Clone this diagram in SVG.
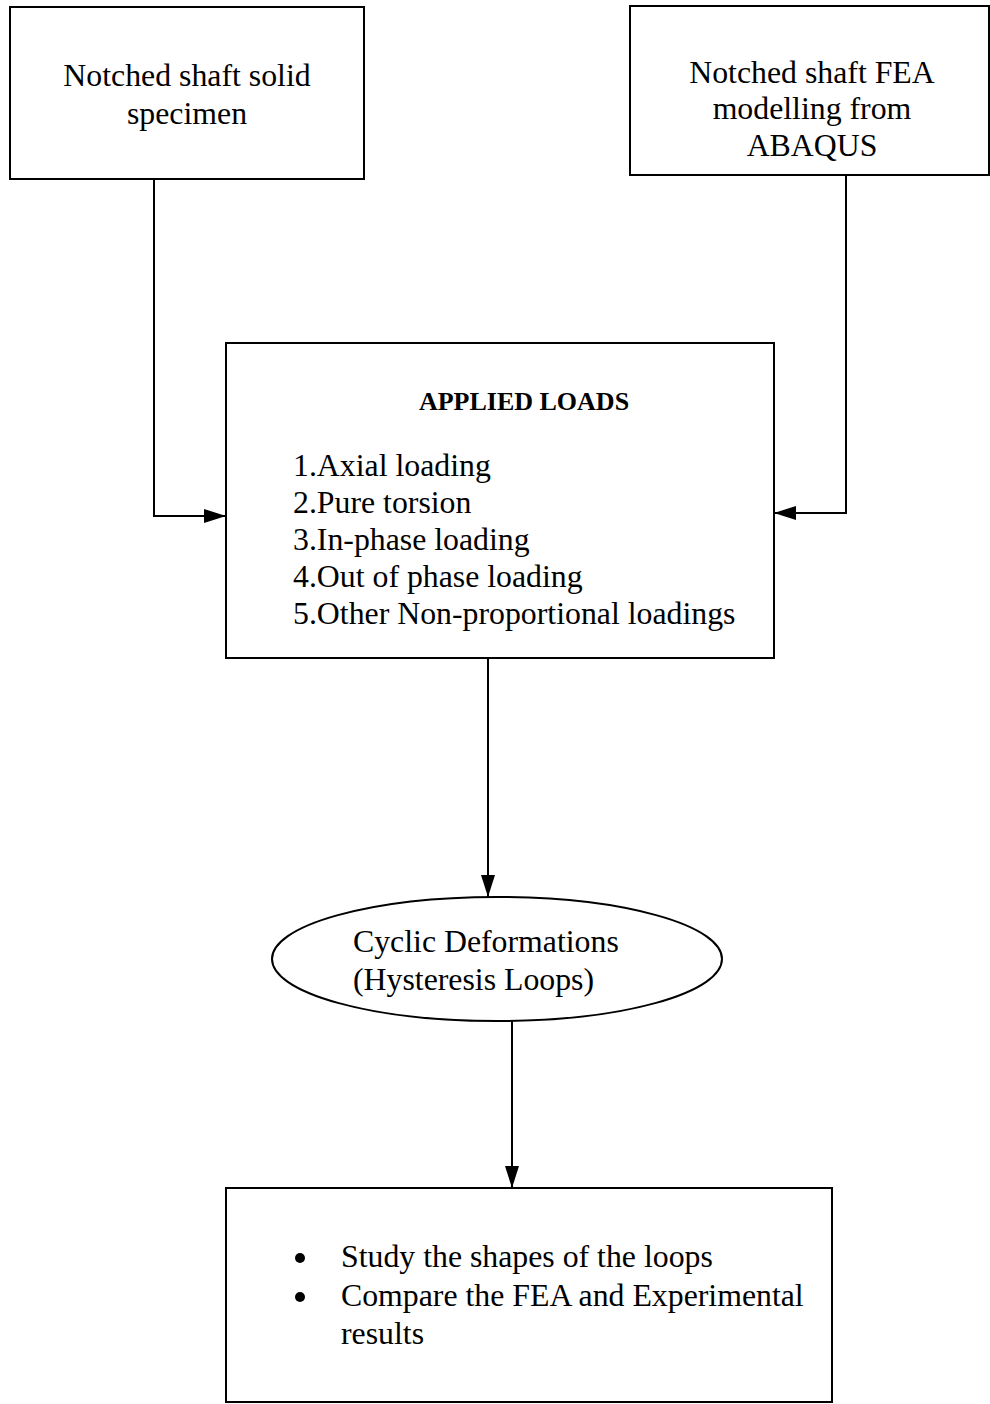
<svg xmlns="http://www.w3.org/2000/svg" width="990" height="1404" viewBox="0 0 990 1404">
<style>
.box{fill:#fff;stroke:#000;stroke-width:2}
.t{font-family:"Liberation Serif","Times New Roman",serif;font-size:31.8px;fill:#000}
.c{text-anchor:middle}
.b{font-weight:bold;font-size:26px}
.conn{fill:none;stroke:#000;stroke-width:2}
</style>
<defs>
<marker id="av" markerWidth="22" markerHeight="14" refX="22" refY="7" orient="auto" markerUnits="userSpaceOnUse">
<path d="M0,0 L22,7 L0,14 Z" fill="#000"/>
</marker>
</defs>
<rect width="990" height="1404" fill="#fff"/>
<g id="connectors">
<path class="conn" d="M154,179 V516 H226" marker-end="url(#av)"/>
<path class="conn" d="M846,175 V513 H774" marker-end="url(#av)"/>
<path class="conn" d="M488,658 V897" marker-end="url(#av)"/>
<path class="conn" d="M512,1021 V1188" marker-end="url(#av)"/>
</g>
<g id="specimen">
<rect class="box" x="10" y="7" width="354" height="172"/>
<text class="t c" x="187" y="86">Notched shaft solid</text>
<text class="t c" x="187" y="124">specimen</text>
</g>
<g id="fea">
<rect class="box" x="630" y="6" width="359" height="169"/>
<text class="t c" x="812" y="83">Notched shaft FEA</text>
<text class="t c" x="812" y="119">modelling from</text>
<text class="t c" x="812" y="156">ABAQUS</text>
</g>
<g id="loads">
<rect class="box" x="226" y="343" width="548" height="315"/>
<text class="t c b" x="524" y="410">APPLIED LOADS</text>
<text class="t" x="293" y="476">1.Axial loading</text>
<text class="t" x="293" y="513">2.Pure torsion</text>
<text class="t" x="293" y="550">3.In-phase loading</text>
<text class="t" x="293" y="587">4.Out of phase loading</text>
<text class="t" x="293" y="624">5.Other Non-proportional loadings</text>
</g>
<g id="cyclic">
<ellipse class="box" cx="497" cy="959" rx="225" ry="62" stroke-width="2.5"/>
<text class="t" x="353" y="952">Cyclic Deformations</text>
<text class="t" x="353" y="990">(Hysteresis Loops)</text>
</g>
<g id="results">
<rect class="box" x="226" y="1188" width="606" height="214"/>
<circle cx="300" cy="1258" r="5" fill="#000"/>
<circle cx="300" cy="1297" r="5" fill="#000"/>
<text class="t" x="341" y="1267">Study the shapes of the loops</text>
<text class="t" x="341" y="1306">Compare the FEA and Experimental</text>
<text class="t" x="341" y="1344">results</text>
</g>
</svg>
